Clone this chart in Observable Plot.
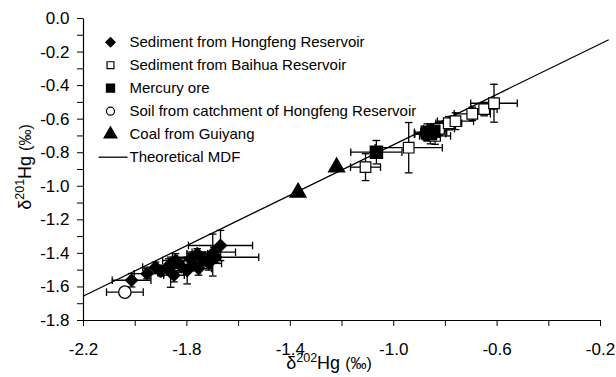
<!DOCTYPE html>
<html>
<head>
<meta charset="utf-8">
<script src="https://cdn.jsdelivr.net/npm/d3@7"></script>
<script src="https://cdn.jsdelivr.net/npm/@observablehq/plot@0.6"></script>
<style>
  html, body { margin: 0; padding: 0; background: white; }
</style>
</head>
<body>
<div id="chart"></div>
<script>
// ---- Data ----
const hongX  = [-2.014, -1.954, -1.921, -1.900, -1.870, -1.863, -1.850, -1.844, -1.820, -1.799, -1.786, -1.775, -1.760, -1.755, -1.741, -1.716, -1.700, -1.696, -1.689, -1.670];
const hongY  = [-1.560, -1.521, -1.482, -1.505, -1.472, -1.512, -1.530, -1.442, -1.480, -1.502, -1.432, -1.470, -1.402, -1.490, -1.432, -1.460, -1.410, -1.393, -1.423, -1.353];
const hongEx = [0.075, 0.05, 0.05, 0.04, 0.05, 0.05, 0.04, 0.05, 0.04, 0.05, 0.05, 0.04, 0.04, 0.05, 0.05, 0.05, 0.03, 0.084, 0.167, 0.124];
const hongEy = [0.04, 0.03, 0.03, 0.03, 0.04, 0.09, 0.04, 0.04, 0.03, 0.08, 0.04, 0.03, 0.03, 0.04, 0.04, 0.04, 0.125, 0.03, 0.03, 0.09];

const baiX  = [-1.109, -0.942, -0.870, -0.840, -0.825, -0.787, -0.761, -0.696, -0.650, -0.612];
const baiY  = [-0.886, -0.770, -0.690, -0.700, -0.657, -0.624, -0.612, -0.568, -0.540, -0.505];
const baiEx = [0.058, 0.13, 0.05, 0.06, 0.06, 0.05, 0.07, 0.07, 0.05, 0.09];
const baiEy = [0.08, 0.15, 0.04, 0.05, 0.04, 0.04, 0.05, 0.04, 0.04, 0.113];

const oreX  = [-1.067, -0.870, -0.858, -0.845];
const oreY  = [-0.797, -0.678, -0.687, -0.672];
const oreEx = [0.099, 0.05, 0.06, 0.05];
const oreEy = [0.07, 0.05, 0.06, 0.04];

const soilX  = [-2.040];
const soilY  = [-1.631];
const soilEx = [0.071];
const soilEy = [0.02];

const coalX = [-1.370, -1.221];
const coalY = [-1.037, -0.886];

const mdfX = [-2.2, -0.17];
const mdfY = [-1.654, -0.128];

const xMajor = [-2.2, -1.8, -1.4, -1.0, -0.6, -0.2];
const xMinor = [-2.0, -1.6, -1.2, -0.8, -0.4];
const yMajor = [0.0, -0.2, -0.4, -0.6, -0.8, -1.0, -1.2, -1.4, -1.6, -1.8];
const yMinor = [-0.1, -0.3, -0.5, -0.7, -0.9, -1.1, -1.3, -1.5, -1.7];

const legendLabels = ["Sediment from Hongfeng Reservoir", "Sediment from Baihua Reservoir", "Mercury ore", "Soil from catchment of Hongfeng Reservoir", "Coal from Guiyang", "Theoretical MDF"];

// ---- helpers ----
const rows = (xs, ys, exs, eys) => xs.map((x, i) => ({x, y: ys[i], ex: exs ? exs[i] : 0, ey: eys ? eys[i] : 0}));
const hong = rows(hongX, hongY, hongEx, hongEy);
const bai = rows(baiX, baiY, baiEx, baiEy);
const ore = rows(oreX, oreY, oreEx, oreEy);
const soil = rows(soilX, soilY, soilEx, soilEy);
const coal = rows(coalX, coalY);
const mdf = mdfX.map((x, i) => ({x, y: mdfY[i]}));
const withErr = [...hong, ...bai, ...ore, ...soil];

const capV = {draw(c) { c.moveTo(0, -3.8); c.lineTo(0, 3.8); }};
const capH = {draw(c) { c.moveTo(-3.8, 0); c.lineTo(3.8, 0); }};
const legLine = {draw(c) { c.moveTo(-14.5, 0); c.lineTo(14.5, 0); }};
const fmt = d => d.toFixed(1);

const legY = i => 23.7 + i * 23;
const legSym = (i, opts) => Plot.dot([0], {frameAnchor: "top-left", dx: 27, dy: legY(i), ...opts});
const legText = legendLabels.map((t, i) =>
  Plot.text([t], {frameAnchor: "top-left", dx: 46, dy: legY(i), text: d => d, textAnchor: "start", lineAnchor: "middle", fontSize: 15, fill: "black"}));

const xEnds = [xMajor[0], xMajor[xMajor.length - 1]];
const yEnds = [yMajor[yMajor.length - 1], yMajor[0]];

const svg = Plot.plot({
  width: 616,
  height: 377,
  marginLeft: 83,
  marginRight: 16,
  marginTop: 18,
  marginBottom: 57,
  x: {domain: [-2.2, -0.2]},
  y: {domain: [-1.8, 0]},
  style: {fontFamily: "'Liberation Sans', Arial, sans-serif", background: "white", color: "black", overflow: "visible"},
  marks: [
    // axes
    Plot.axisX(xMajor, {tickSize: 6, tickPadding: 16, tickFormat: fmt, fontSize: 17, label: null}),
    Plot.axisX(xMinor, {tickSize: 6, tickFormat: () => "", label: null}),
    Plot.axisY(yMajor, {tickSize: 6, tickPadding: 8, tickFormat: fmt, fontSize: 17, label: null}),
    Plot.axisY(yMinor, {tickSize: 6, tickFormat: () => "", label: null}),
    Plot.link([0], {x1: xEnds[0], x2: xEnds[0], y1: yEnds[0], y2: yEnds[1], stroke: "black", strokeWidth: 1.2}),
    Plot.link([0], {x1: xEnds[0], x2: xEnds[1], y1: yEnds[0], y2: yEnds[0], stroke: "black", strokeWidth: 1.2}),
    // theoretical MDF
    Plot.line(mdf, {x: "x", y: "y", stroke: "black", strokeWidth: 1.3}),
    // error bars
    Plot.ruleY(withErr, {y: "y", x1: d => d.x - d.ex, x2: d => d.x + d.ex, stroke: "black", strokeWidth: 1.3}),
    Plot.ruleX(withErr, {x: "x", y1: d => d.y - d.ey, y2: d => d.y + d.ey, stroke: "black", strokeWidth: 1.3}),
    Plot.dot(withErr, {x: d => d.x - d.ex, y: "y", symbol: capV, stroke: "black", strokeWidth: 1.3, fill: "none"}),
    Plot.dot(withErr, {x: d => d.x + d.ex, y: "y", symbol: capV, stroke: "black", strokeWidth: 1.3, fill: "none"}),
    Plot.dot(withErr, {x: "x", y: d => d.y - d.ey, symbol: capH, stroke: "black", strokeWidth: 1.3, fill: "none"}),
    Plot.dot(withErr, {x: "x", y: d => d.y + d.ey, symbol: capH, stroke: "black", strokeWidth: 1.3, fill: "none"}),
    // points
    Plot.dot(hong, {x: "x", y: "y", symbol: "diamond2", r: 6.0, fill: "black", stroke: "black", strokeWidth: 0.5}),
    Plot.dot(bai, {x: "x", y: "y", symbol: "square", r: 6.0, fill: "white", stroke: "black", strokeWidth: 1.2}),
    Plot.dot(ore, {x: "x", y: "y", symbol: "square", r: 6.8, fill: "black", stroke: "black"}),
    Plot.dot(soil, {x: "x", y: "y", symbol: "circle", r: 6.2, fill: "white", stroke: "black", strokeWidth: 1.3}),
    Plot.dot(coal, {x: "x", y: "y", symbol: "triangle", r: 5.8, fill: "black", stroke: "black"}),
    // legend
    legSym(0, {symbol: "diamond2", r: 4.0, fill: "black", stroke: "black"}),
    legSym(1, {symbol: "square", r: 3.9, fill: "white", stroke: "black", strokeWidth: 1.2}),
    legSym(2, {symbol: "square", r: 4.4, fill: "black", stroke: "black"}),
    legSym(3, {symbol: "circle", r: 4.0, fill: "white", stroke: "black", strokeWidth: 1.2}),
    legSym(4, {symbol: "triangle", r: 4.6, fill: "black", stroke: "black"}),
    Plot.dot([0], {frameAnchor: "top-left", dx: 29.5, dy: legY(5), symbol: legLine, stroke: "black", strokeWidth: 1.3, fill: "none"}),
    ...legText
  ]
});

document.getElementById("chart").appendChild(svg);

// axis titles with superscripts
const root = d3.select(svg);
const xt = root.append("text")
  .attr("x", 329).attr("y", 369)
  .attr("text-anchor", "middle")
  .attr("font-family", "'Liberation Sans', Arial, sans-serif")
  .attr("font-size", 18).attr("fill", "black");
xt.append("tspan").text("δ");
xt.append("tspan").attr("font-size", 12.5).attr("dy", -7).text("202");
xt.append("tspan").attr("dy", 7).text("Hg ");
xt.append("tspan").attr("font-size", 16).text("(‰)");

const yt = root.append("text")
  .attr("transform", "translate(31,167) rotate(-90)")
  .attr("text-anchor", "middle")
  .attr("font-family", "'Liberation Sans', Arial, sans-serif")
  .attr("font-size", 18).attr("fill", "black");
yt.append("tspan").text("δ");
yt.append("tspan").attr("font-size", 12.5).attr("dy", -7).text("201");
yt.append("tspan").attr("dy", 7).text("Hg ");
yt.append("tspan").attr("font-size", 16).text("(‰)");
</script>
</body>
</html>
